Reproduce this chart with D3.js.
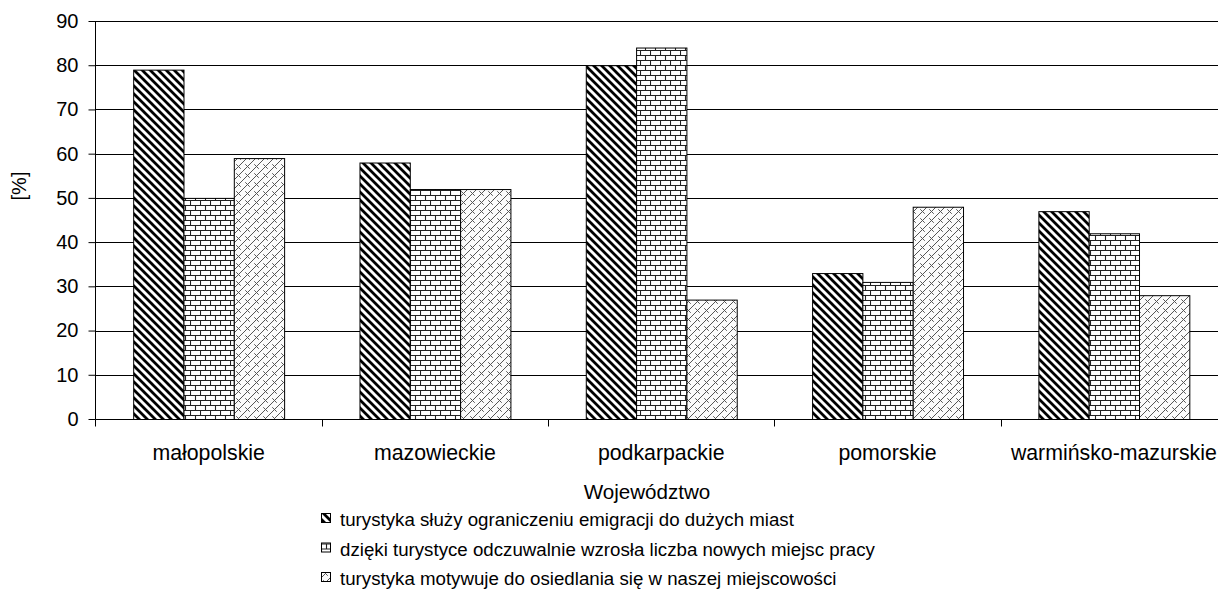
<!DOCTYPE html>
<html>
<head>
<meta charset="utf-8">
<script src="https://cdn.jsdelivr.net/npm/d3@7"></script>
<style>
  body { margin: 0; background: #fff; }
  svg text { font-family: "Liberation Sans", Arial, sans-serif; fill: #000; }
</style>
</head>
<body>
<svg id="chart" width="1218" height="609"></svg>
<script>
// Chart data
const categories = ['małopolskie', 'mazowieckie', 'podkarpackie', 'pomorskie', 'warmińsko-mazurskie'];
const seriesNames = [
    'turystyka służy ograniczeniu emigracji do dużych miast',
    'dzięki turystyce odczuwalnie wzrosła liczba nowych miejsc pracy',
    'turystyka motywuje do osiedlania się w naszej miejscowości'
];
const emigracja = [79, 58, 80, 33, 47];
const pracy = [50, 52, 84, 31, 42];
const osiedlanie = [59, 52, 27, 48, 28];
const yTicks = [0, 10, 20, 30, 40, 50, 60, 70, 80, 90];

const series = [emigracja, pracy, osiedlanie];
const patternIds = ['pat-diag', 'pat-brick', 'pat-dbrick'];

const svg = d3.select('#chart');

// Pattern fills
const defs = svg.append('defs');

// wide downward diagonal
const p1 = defs.append('pattern')
    .attr('id', 'pat-diag')
    .attr('patternUnits', 'userSpaceOnUse')
    .attr('width', 8).attr('height', 8);
p1.append('rect').attr('width', 8).attr('height', 8).attr('fill', '#fff');
p1.append('path')
    .attr('d', 'M-2,-2 L10,10 M-2,6 L2,10 M6,-2 L10,2')
    .attr('stroke', '#000').attr('stroke-width', 2.8);

// horizontal brick
const p2 = defs.append('pattern')
    .attr('id', 'pat-brick')
    .attr('patternUnits', 'userSpaceOnUse')
    .attr('width', 10).attr('height', 10);
p2.append('rect').attr('width', 10).attr('height', 10).attr('fill', '#fff');
p2.append('path')
    .attr('d', 'M0,0.5 H10 M0,5.5 H10 M0.5,0 V5 M5.5,5 V10')
    .attr('stroke', '#222').attr('stroke-width', 1.1).attr('fill', 'none');

// diagonal brick
const p3 = defs.append('pattern')
    .attr('id', 'pat-dbrick')
    .attr('patternUnits', 'userSpaceOnUse')
    .attr('width', 9).attr('height', 9);
p3.append('rect').attr('width', 9).attr('height', 9).attr('fill', '#fbfbfb');
p3.append('path')
    .attr('d', 'M0,9 L9,0 M-4.5,4.5 L4.5,-4.5 M4.5,13.5 L13.5,4.5 M2.25,2.25 L6.75,6.75')
    .attr('stroke', '#555').attr('stroke-width', 1).attr('fill', 'none');

// Layout
const plotLeft = 95.5, plotRight = 1227, plotTop = 21, plotBottom = 419;

const x = d3.scaleBand()
    .domain(categories)
    .range([plotLeft, plotRight])
    .paddingInner(0.333)
    .paddingOuter(0.1665);

const xs = d3.scaleBand()
    .domain(d3.range(series.length))
    .range([0, x.bandwidth()]);

const y = d3.scaleLinear()
    .domain([0, 90])
    .range([plotBottom, plotTop]);

// Gridlines
svg.append('g')
    .selectAll('line')
    .data(yTicks.filter(d => d > 0))
    .join('line')
    .attr('x1', plotLeft).attr('x2', 1218)
    .attr('y1', d => Math.round(y(d)) + 0.5)
    .attr('y2', d => Math.round(y(d)) + 0.5)
    .attr('stroke', '#000')
    .attr('stroke-width', 1);

// Bars
const groups = svg.append('g')
    .selectAll('g')
    .data(series)
    .join('g')
    .attr('fill', (d, i) => 'url(#' + patternIds[i] + ')');

groups.each(function (vals, si) {
    d3.select(this).selectAll('rect')
        .data(vals)
        .join('rect')
        .attr('x', (d, i) => x(categories[i]) + xs(si) + 0.5)
        .attr('y', d => y(d) + 0.5)
        .attr('width', xs.bandwidth())
        .attr('height', d => plotBottom - y(d))
        .attr('stroke', '#000')
        .attr('stroke-width', 1);
});

// Y axis
const yAxis = svg.append('g')
    .attr('transform', 'translate(' + plotLeft + ',0)')
    .call(d3.axisLeft(y).tickValues(yTicks).tickSize(7).tickPadding(10));
yAxis.select('.domain').attr('stroke', '#000').attr('d', 'M0,' + plotTop + 'V' + (plotBottom + 0.5));
yAxis.selectAll('.tick line').attr('stroke', '#000');
yAxis.selectAll('.tick text')
    .style('font-size', '20px')
    .attr('fill', '#000');

// X axis
const xAxis = svg.append('g')
    .attr('transform', 'translate(0,' + (plotBottom + 0.5) + ')');
xAxis.append('line')
    .attr('x1', plotLeft).attr('x2', 1218)
    .attr('stroke', '#000');
xAxis.selectAll('line.tick')
    .data(categories)
    .join('line')
    .attr('class', 'tick')
    .attr('x1', d => Math.round(x(d) - x.step() * x.paddingInner() / 2) + 0.5)
    .attr('x2', d => Math.round(x(d) - x.step() * x.paddingInner() / 2) + 0.5)
    .attr('y1', 0).attr('y2', 7)
    .attr('stroke', '#000');
xAxis.selectAll('text')
    .data(categories)
    .join('text')
    .attr('x', d => x(d) + x.bandwidth() / 2)
    .attr('y', 40)
    .attr('text-anchor', 'middle')
    .style('font-size', '21.3px')
    .text(d => d);

// Axis titles
svg.append('text')
    .attr('x', 647).attr('y', 499)
    .attr('text-anchor', 'middle')
    .style('font-size', '20.6px')
    .text('Województwo');

svg.append('text')
    .attr('transform', 'translate(26,186) rotate(-90)')
    .attr('text-anchor', 'middle')
    .style('font-size', '20px')
    .text('[%]');

// Legend
const legend = svg.append('g')
    .selectAll('g')
    .data(seriesNames)
    .join('g')
    .attr('transform', (d, i) => 'translate(321,' + (519 + i * 29.5) + ')');
legend.append('rect')
    .attr('x', 0.5).attr('y', -5.5)
    .attr('width', 9).attr('height', 9)
    .attr('fill', (d, i) => 'url(#' + patternIds[i] + ')')
    .attr('stroke', '#000');
legend.append('text')
    .attr('x', 19).attr('y', 7)
    .style('font-size', '18.7px')
    .text(d => d);
</script>
</body>
</html>
